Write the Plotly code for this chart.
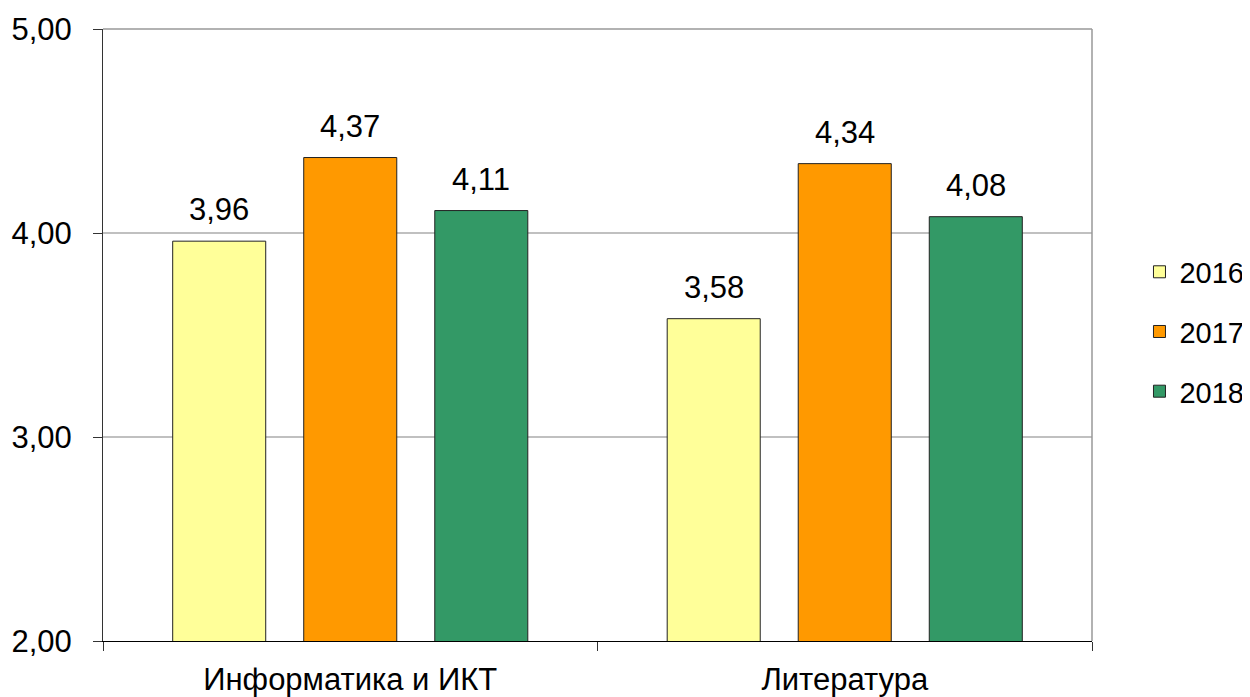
import plotly.graph_objects as go

categories = ["Информатика и ИКТ", "Литература"]
years = ["2016", "2017", "2018"]
values_2016 = [3.96, 3.58]
values_2017 = [4.37, 4.34]
values_2018 = [4.11, 4.08]
colors = ["#FFFF99", "#FF9900", "#339966"]
y_ticks = [2, 3, 4, 5]

series = [values_2016, values_2017, values_2018]
FONT = "Liberation Sans, Arial, sans-serif"
FS = 31

bargap = 0.205
bargroupgap = 0.29
xs = list(range(len(categories)))

fig = go.Figure()
for yr, vals, col in zip(years, series, colors):
    fig.add_trace(go.Bar(
        x=xs, y=vals, name=yr, legendgroup=yr,
        marker=dict(color=col, line=dict(color="#222222", width=1)),
        hoverinfo="skip",
    ))

# value labels above bars
slot = (1 - bargap) / len(years)
for j, vals in enumerate(series):
    off = (j - (len(years) - 1) / 2) * slot
    for i, v in enumerate(vals):
        fig.add_annotation(
            x=i + off, y=v, xref="x", yref="y",
            text=f"{v:.2f}".replace(".", ","),
            showarrow=False, yanchor="bottom", yshift=12,
            font=dict(family=FONT, size=FS, color="black"),
        )

# dummy trace for the boundary-tick axis
fig.add_trace(go.Scatter(x=[-0.5, 1.5], y=[2, 2], xaxis="x2", mode="markers",
                         marker=dict(opacity=0), showlegend=False, hoverinfo="skip"))

# the page body has an 8px margin, so the figure is sized 8px smaller
fig.update_layout(
    width=1242, height=689,
    margin=dict(l=95, r=158, t=21, b=56, autoexpand=False),
    paper_bgcolor="white", plot_bgcolor="white",
    separators=",.",
    barmode="group", bargap=bargap, bargroupgap=bargroupgap,
    font=dict(family=FONT, size=FS, color="black"),
    xaxis=dict(
        range=[-0.5, 1.5], tickvals=xs, ticktext=categories,
        ticks="", showline=True, linecolor="black", linewidth=1,
        showgrid=False, zeroline=False, fixedrange=True, automargin=False,
        ticklabelstandoff=11,
        tickfont=dict(family=FONT, size=FS, color="black"),
    ),
    xaxis2=dict(
        range=[-0.5, 1.5], overlaying="x", anchor="y", side="bottom",
        tickvals=[-0.5, 0.5, 1.5], showticklabels=False,
        ticks="outside", ticklen=9, tickcolor="#333333", tickwidth=1,
        showgrid=False, zeroline=False, showline=False, automargin=False,
    ),
    yaxis=dict(
        range=[2, 5], tickvals=y_ticks, tickformat=".2f",
        ticks="outside", ticklen=9, tickcolor="#333333", tickwidth=1,
        showline=True, linecolor="#333333", linewidth=1,
        showgrid=True, gridcolor="#C0C0C0", gridwidth=1.5,
        zeroline=False, ticklabelstandoff=15, automargin=False,
        tickfont=dict(family=FONT, size=FS, color="black"),
    ),
    legend=dict(
        x=0.048, y=0.505, xanchor="left", yanchor="middle",
        font=dict(family=FONT, size=29, color="black"),
        tracegroupgap=19, itemwidth=30, bgcolor="rgba(0,0,0,0)",
    ),
    shapes=[
        dict(type="line", xref="paper", yref="paper", x0=0, x1=1, y0=1, y1=1,
             line=dict(color="#999999", width=1.5)),
        dict(type="line", xref="paper", yref="paper", x0=1, x1=1, y0=0, y1=1,
             line=dict(color="#999999", width=1.5)),
    ],
)
fig.update_layout(legend_x=1.048)

fig.write_html("out.html")
